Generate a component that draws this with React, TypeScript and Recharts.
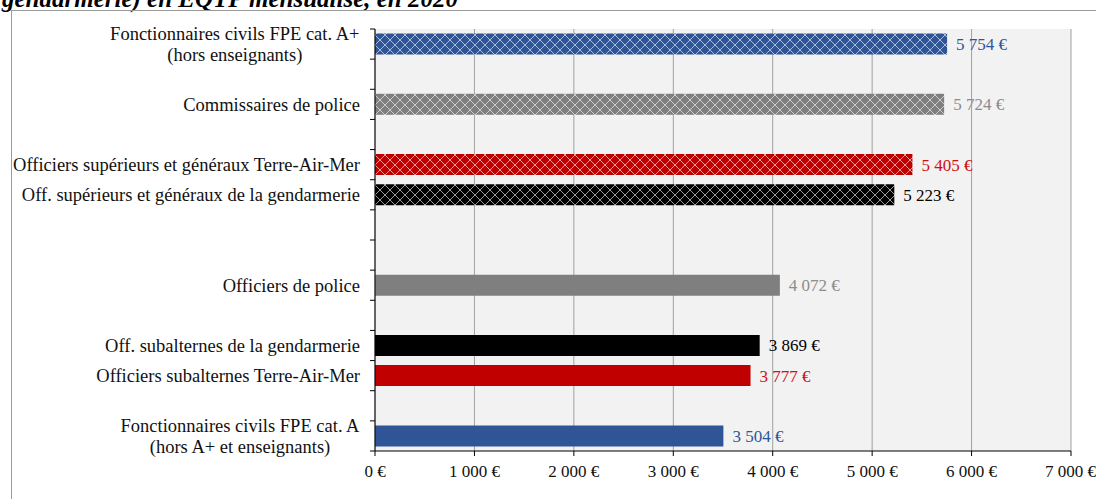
import React from 'react';
import { BarChart, Bar, XAxis, YAxis, CartesianGrid, Cell, LabelList } from 'recharts';

// 14 slots on the category axis, blanks are empty rows like in the original sheet
const categories = [
  'Fonctionnaires civils FPE cat. A+\n(hors enseignants)',
  '',
  'Commissaires de police',
  '',
  'Officiers supérieurs et généraux Terre-Air-Mer',
  'Off. supérieurs et généraux de la gendarmerie',
  '',
  '',
  'Officiers de police ',
  '',
  'Off. subalternes de la gendarmerie',
  'Officiers subalternes Terre-Air-Mer',
  '',
  'Fonctionnaires civils FPE cat. A\n(hors A+ et enseignants)',
];
const salaries = [5754, null, 5724, null, 5405, 5223, null, null, 4072, null, 3869, 3777, null, 3504];
const barFills = [
  'url(#hatchBlue)', '', 'url(#hatchGray)', '', 'url(#hatchRed)', 'url(#hatchBlack)', '', '',
  '#7F7F7F', '', '#000000', '#C00000', '', '#2F5597',
];
const labelColors = [
  '#2F5597', '', '#8C8C8C', '', '#D01010', '#000000', '', '',
  '#8C8C8C', '', '#000000', '#D01010', '', '#2F5597',
];
const xTicks = [0, 1000, 2000, 3000, 4000, 5000, 6000, 7000];

const title = 'gendarmerie) en EQTP mensualisé, en 2020';

const FONT = '"Liberation Serif", "Times New Roman", serif';

const data = categories.map((name, i) => ({ id: i, name, value: salaries[i] }));

const euro = (v: number) => {
  const s = String(Math.round(v));
  return s.replace(/\B(?=(\d{3})+(?!\d))/g, '\u00a0') + '\u00a0€';
};

let ctx: CanvasRenderingContext2D | null = null;
const measure = (text: string, size: number) => {
  if (!ctx) ctx = document.createElement('canvas').getContext('2d');
  if (!ctx) return text.length * size * 0.45;
  ctx.font = `${size}px ${FONT}`;
  return ctx.measureText(text).width;
};

const CategoryTick = (props: any) => {
  const { x, y, payload, tickMargin = 10, tickSize = 5 } = props;
  const idx = Number(payload.value);
  const half = payload.offset || 15;
  const lines = (categories[idx] || '').split('\n');
  const axisX = x + tickMargin + tickSize;
  const fs = 18.5;
  const blockW = Math.max(...lines.map((l) => measure(l, fs)));
  const lh = 21;
  return (
    <g>
      {idx === 0 && <line x1={axisX - tickSize} x2={axisX} y1={y - half} y2={y - half} stroke="#000" />}
      <line x1={axisX - tickSize} x2={axisX} y1={y + half} y2={y + half} stroke="#000" />
      {lines.length === 1 ? (
        <text x={x} y={y} dy="0.35em" textAnchor="end" fontSize={fs} fontFamily={FONT} fill="#111">
          {lines[0]}
        </text>
      ) : (
        <text x={x - blockW / 2} y={y - (lh * (lines.length - 1)) / 2} textAnchor="middle" fontSize={fs} fontFamily={FONT} fill="#111">
          {lines.map((l, i) => (
            <tspan key={i} x={x - blockW / 2} dy={i === 0 ? '0.35em' : lh}>
              {l}
            </tspan>
          ))}
        </text>
      )}
    </g>
  );
};

const ValueLabel = (props: any) => {
  const { x, y, width, height, value } = props;
  if (value == null || value === '') return null;
  const i = salaries.indexOf(Number(value));
  return (
    <text x={x + width + 9} y={y + height / 2} dy="0.35em" fontSize={17} fontFamily={FONT} fill={labelColors[i]}>
      {euro(Number(value))}
    </text>
  );
};

const hatch = (id: string, color: string) => (
  <pattern id={id} width={10} height={10} patternUnits="userSpaceOnUse">
    <rect width={10} height={10} fill={color} />
    <path d="M0,0 L10,10 M10,0 L0,10" stroke="#ffffff" strokeOpacity={0.6} strokeWidth={1} />
  </pattern>
);

export default function App() {
  return (
    <div style={{ position: 'absolute', left: 0, top: 0, width: 1096, height: 499, overflow: 'hidden', background: '#fff' }}>
      <div
        style={{
          position: 'absolute', left: 2, top: -13, fontFamily: FONT, fontSize: 25, lineHeight: '24px',
          fontWeight: 'bold', fontStyle: 'italic', whiteSpace: 'nowrap', color: '#000',
        }}
      >
        {title}
      </div>
      <div style={{ position: 'absolute', left: 11, top: 10, width: 1100, height: 500, borderLeft: '1px solid #9a9a9a', borderTop: '1px solid #9a9a9a' }} />
      <div style={{ position: 'absolute', left: 0, top: 0 }}>
        <BarChart
          width={1096}
          height={499}
          layout="vertical"
          data={data}
          margin={{ top: 29, right: 25, bottom: 18, left: 0 }}
          barCategoryGap="15%"
        >
          <defs>
            {hatch('hatchBlue', '#2F5597')}
            {hatch('hatchGray', '#7F7F7F')}
            {hatch('hatchRed', '#C00000')}
            {hatch('hatchBlack', '#000000')}
          </defs>
          <CartesianGrid horizontal={false} stroke="#a0a0a0" fill="#f2f2f2" />
          <XAxis
            type="number"
            domain={[0, 7000]}
            ticks={xTicks}
            tickFormatter={euro}
            axisLine={{ stroke: '#000' }}
            tickLine={{ stroke: '#000' }}
            tickSize={5}
            tickMargin={9}
            height={30}
            tick={{ fontSize: 17, fontFamily: FONT, fill: '#111' }}
          />
          <YAxis
            type="category"
            dataKey="id"
            width={375}
            interval={0}
            axisLine={{ stroke: '#000' }}
            tickLine={false}
            tickSize={5}
            tickMargin={10}
            tick={<CategoryTick />}
          />
          <Bar dataKey="value" isAnimationActive={false}>
            {data.map((d, i) => (
              <Cell key={d.id} fill={barFills[i] || 'none'} />
            ))}
            <LabelList dataKey="value" content={<ValueLabel />} />
          </Bar>
        </BarChart>
      </div>
    </div>
  );
}
